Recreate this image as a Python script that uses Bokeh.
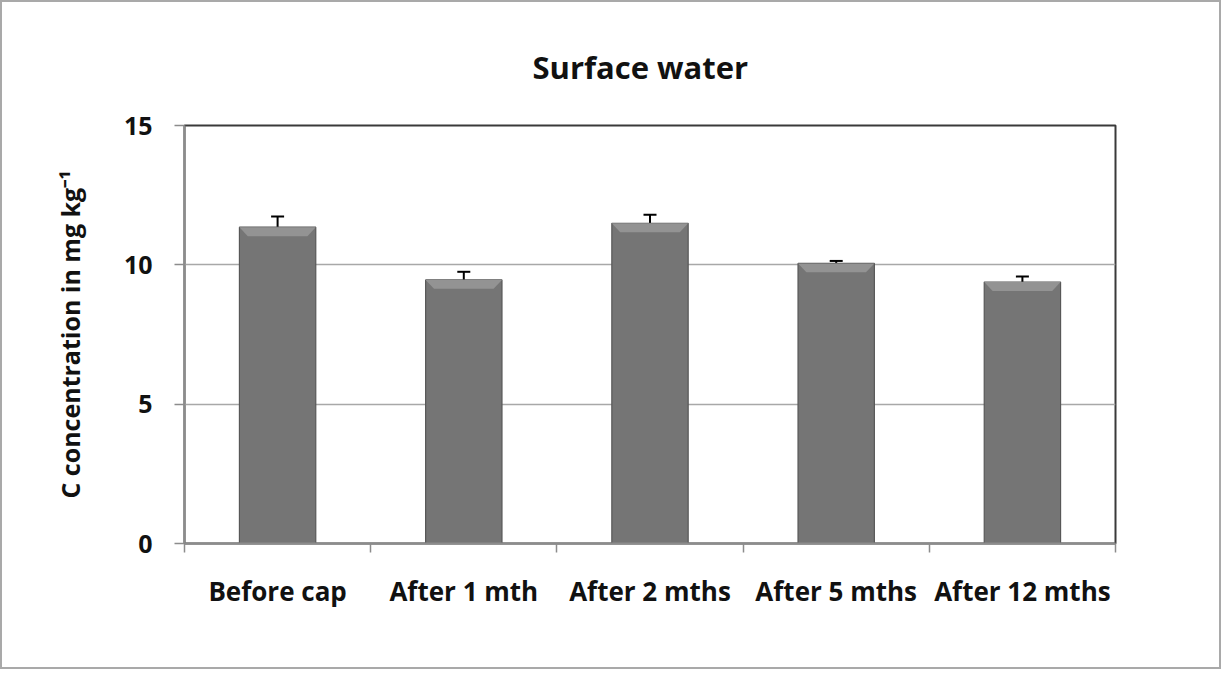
from bokeh.plotting import figure
from bokeh.models import Range1d, FixedTicker, Whisker, TeeHead, ColumnDataSource, Title
from bokeh.embed import file_html
from bokeh.resources import INLINE

categories = ["Before cap", "After 1 mth", "After 2 mths", "After 5 mths", "After 12 mths"]
values = [11.35, 9.46, 11.49, 10.05, 9.38]
errors = [0.38, 0.29, 0.31, 0.09, 0.20]
y_ticks = [0, 5, 10, 15]
title_text = "Surface water"

FONT = "Open Sans"
BAR_W = 0.41
BEV_X = 0.045
BEV_Y = 0.32

x = [i + 0.5 for i in range(len(categories))]
upper = [v + e for v, e in zip(values, errors)]
bounds = list(range(len(categories) + 1))

src = ColumnDataSource(dict(x=x, top=values, upper=upper))

p = figure(width=1221, height=669, output_backend="svg", toolbar_location=None,
           x_range=Range1d(0, len(categories)), y_range=Range1d(0, 15),
           min_border_left=182, min_border_right=108, min_border_top=123, min_border_bottom=128)
p.styles = {"border": "2px solid #a9a9a9"}

p.add_layout(Title(text=title_text, text_font=FONT, text_font_size="31px",
                   text_font_style="bold", align="left", offset=348,
                   vertical_align="top", standoff=72, text_color="#111111"), "above")

p.outline_line_color = "#3a3a3a"
p.outline_line_width = 2
p.background_fill_color = "white"
p.border_fill_color = "white"

# bars
p.vbar(x="x", top="top", bottom=0, width=BAR_W, source=src, fill_color="#757575",
       line_color="#575757", line_width=1.2)
# bevel on top of bars
bxs = [[c - BAR_W / 2, c + BAR_W / 2, c + BAR_W / 2 - BEV_X, c - BAR_W / 2 + BEV_X] for c in x]
bys = [[v, v, v - BEV_Y, v - BEV_Y] for v in values]
p.patches(bxs, bys, fill_color="#939393", line_color=None)

# error bars (upper only)
w = Whisker(base="x", lower="top", upper="upper", source=src, dimension="height",
            line_color="black", line_width=2,
            upper_head=TeeHead(size=13, line_color="black", line_width=2), lower_head=None)
p.add_layout(w)

# grid
p.xgrid.grid_line_color = None
p.ygrid.ticker = FixedTicker(ticks=[5, 10])
p.ygrid.grid_line_color = "#a8a8a8"
p.ygrid.grid_line_width = 1.5

# y axis
p.yaxis.ticker = FixedTicker(ticks=y_ticks)
p.yaxis.axis_line_color = "#8c8c8c"
p.yaxis.axis_line_width = 2
p.yaxis.major_tick_line_color = "#8c8c8c"
p.yaxis.major_tick_line_width = 1.5
p.yaxis.major_tick_out = 10
p.yaxis.major_tick_in = 0
p.yaxis.minor_tick_line_color = None
p.yaxis.major_label_text_font = FONT
p.yaxis.major_label_text_font_style = "bold"
p.yaxis.major_label_text_font_size = "25px"
p.yaxis.major_label_text_color = "#111111"
p.yaxis.major_label_standoff = 22
p.yaxis.axis_label = "C concentration in mg kg\u207b\u00b9"
p.yaxis.axis_label_text_font = FONT
p.yaxis.axis_label_text_font_style = "bold"
p.yaxis.axis_label_text_font_size = "25px"
p.yaxis.axis_label_text_color = "#111111"
p.yaxis.axis_label_standoff = 34

# x axis
p.xaxis.ticker = FixedTicker(ticks=x, minor_ticks=bounds)
p.xaxis.major_label_overrides = {c: lab for c, lab in zip(x, categories)}
p.xaxis.axis_line_color = "#8c8c8c"
p.xaxis.axis_line_width = 2
p.xaxis.major_tick_line_color = None
p.xaxis.minor_tick_line_color = "#8c8c8c"
p.xaxis.minor_tick_line_width = 1.5
p.xaxis.minor_tick_out = 9
p.xaxis.minor_tick_in = 0
p.xaxis.major_label_text_font = FONT
p.xaxis.major_label_text_font_style = "bold"
p.xaxis.major_label_text_font_size = "26px"
p.xaxis.major_label_text_color = "#111111"
p.xaxis.major_label_standoff = 20

open("out.html", "w").write(file_html(p, INLINE))
